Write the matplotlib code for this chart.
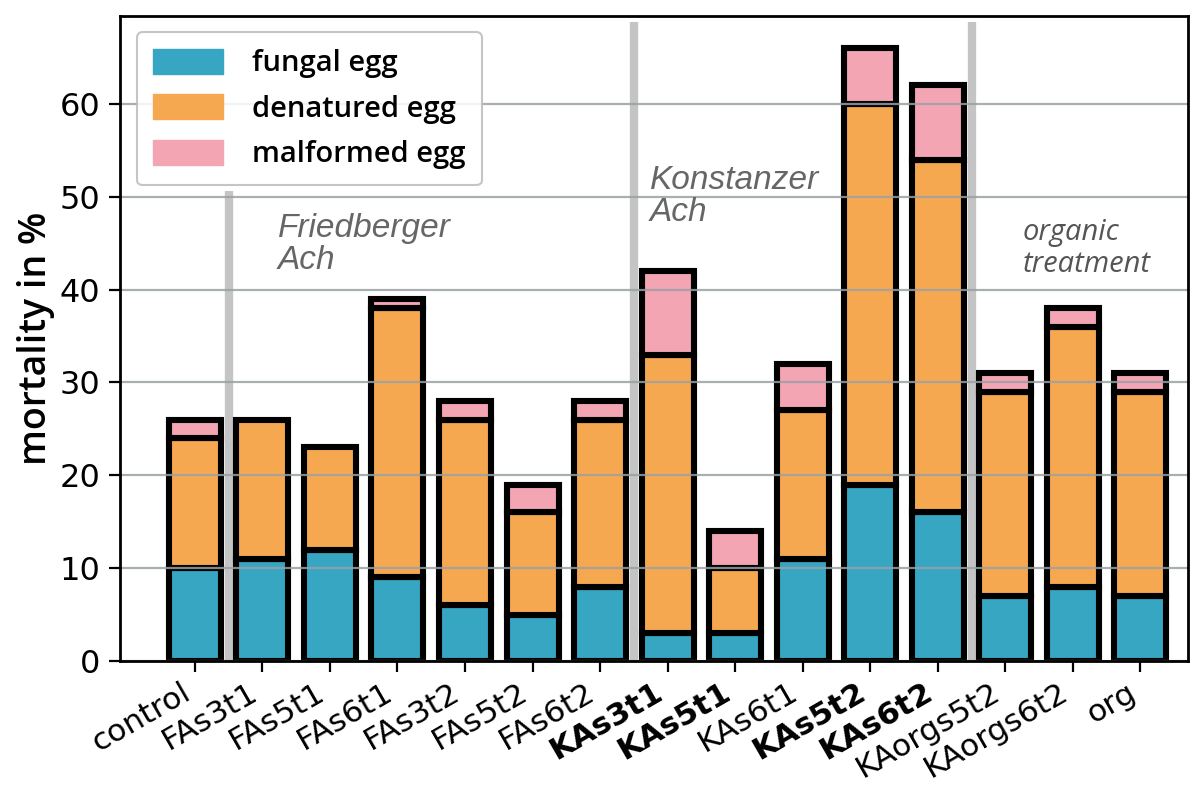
import numpy as np
import matplotlib
matplotlib.use("Agg")
import matplotlib.pyplot as plt
from matplotlib.patches import Patch

# data (mortality in %, stacked)
samples = ["control", "FAs3t1", "FAs5t1", "FAs6t1", "FAs3t2", "FAs5t2", "FAs6t2",
           "KAs3t1", "KAs5t1", "KAs6t1", "KAs5t2", "KAs6t2", "KAorgs5t2",
           "KAorgs6t2", "org"]
fungal = [10, 11, 12, 9, 6, 5, 8, 3, 3, 11, 19, 16, 7, 8, 7]
denatured = [14, 15, 11, 29, 20, 11, 18, 30, 7, 16, 41, 38, 22, 28, 22]
malformed = [2, 0, 0, 1, 2, 3, 2, 9, 4, 5, 6, 8, 2, 2, 2]
bold_samples = ["KAs3t1", "KAs5t1", "KAs5t2", "KAs6t2"]
series_names = ["fungal egg", "denatured egg", "malformed egg"]
colors = ["#37a6c2", "#f6a851", "#f4a5b4"]
group_labels = ["Friedberger\nAch", "Konstanzer\nAch", "organic\ntreatment"]

plt.rcParams.update({"font.family": "DejaVu Sans", "font.size": 23})

fig = plt.figure(figsize=(11.98, 7.85), dpi=100)
ax = fig.add_axes([0.100, 0.158, 0.892, 0.822])

x = np.arange(len(samples))
lw = 4.4
bottom = np.zeros(len(samples))
for vals, col in zip([fungal, denatured, malformed], colors):
    vals = np.array(vals, dtype=float)
    ax.bar(x, vals, 0.77, bottom=bottom, color=col, edgecolor="black",
           linewidth=np.where(vals > 0, lw, 0), zorder=2)
    bottom += vals

# group separators
ax.vlines([0.5], 0, 50.6, color="#c4c4c4", lw=6, zorder=1)
ax.vlines([6.5, 11.5], 0, 68.8, color="#c4c4c4", lw=6, zorder=1)

ax.set_xlim(-1.11, 14.71)
ax.set_ylim(0, 69.5)
ax.set_yticks(range(0, 70, 10))
ax.grid(axis="y", color="#9aa0a6", lw=1.6, alpha=0.85, zorder=3)
ax.set_axisbelow(False)
for s in ax.spines.values():
    s.set_linewidth(2)
    s.set_zorder(4)
ax.tick_params(length=8, width=1.6, labelsize=23)
ax.tick_params(axis="y", pad=6)
ax.tick_params(axis="x", pad=4, labelsize=22.5)

ax.set_xticks(x)
ax.set_xticklabels(samples, rotation=30, ha="right")
for t in ax.get_xticklabels():
    if t.get_text() in bold_samples:
        t.set_fontweight("heavy")

ax.set_ylabel("mortality in %", family="Open Sans", fontweight="semibold",
              fontsize=27, labelpad=3)

ax.text(1.23, 48.3, group_labels[0], style="italic", family="Liberation Sans",
        color="#666666", fontsize=24, va="top", linespacing=1.05)
ax.text(6.74, 53.4, group_labels[1], style="italic", family="Liberation Sans",
        color="#666666", fontsize=24, va="top", linespacing=1.05)
ax.text(12.25, 47.7, group_labels[2], style="italic", family="Open Sans",
        color="#555555", fontsize=21, va="top", linespacing=1.15)

handles = [Patch(facecolor=c, edgecolor=c) for c in colors]
leg = ax.legend(handles, series_names, loc="upper left",
                bbox_to_anchor=(0.016, 0.974), borderaxespad=0,
                prop={"family": "Open Sans", "size": 21, "weight": "semibold"},
                handlelength=2.4, handleheight=0.95, handletextpad=1.0,
                labelspacing=0.55, framealpha=0.85, borderpad=0.55)
leg.set_zorder(5)
leg.get_frame().set_edgecolor("#bbbbbb")
leg.get_frame().set_linewidth(1.5)

fig.savefig("out.png", dpi=100)
